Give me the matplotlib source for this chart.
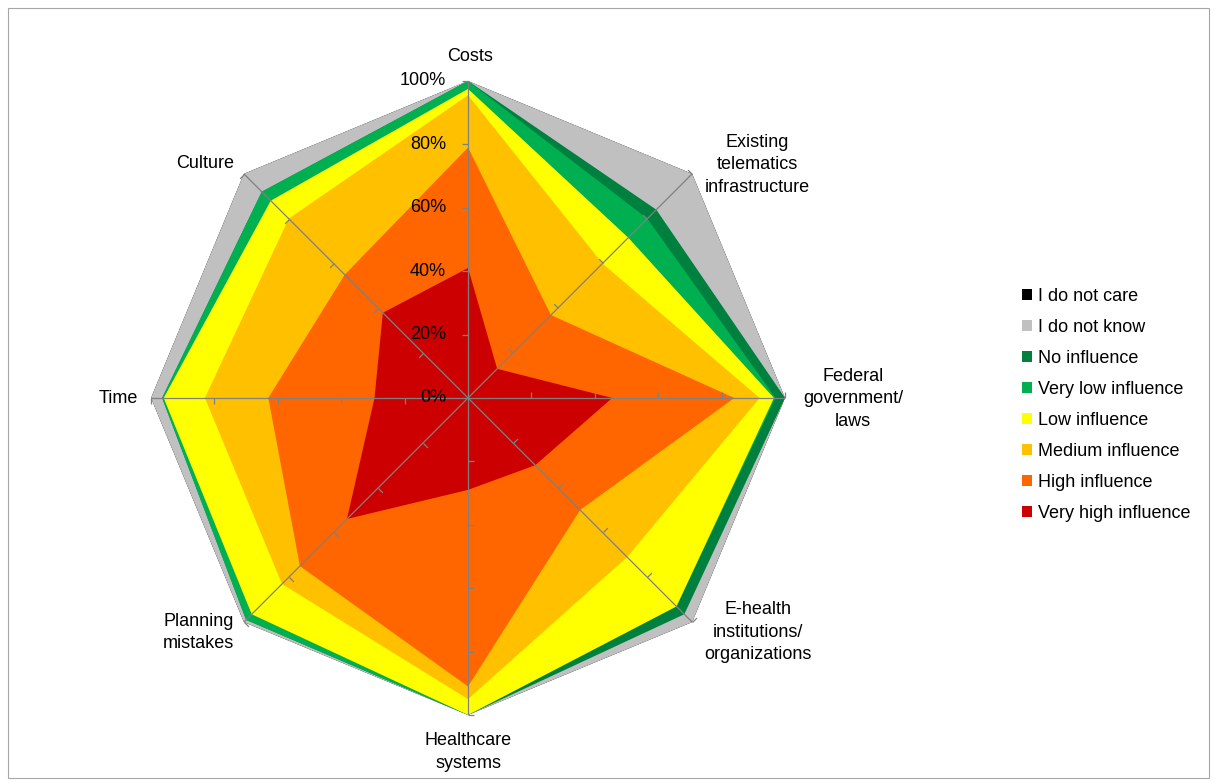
import matplotlib.pyplot as plt
import numpy as np
from matplotlib.markers import MarkerStyle
from matplotlib.path import Path
from matplotlib.transforms import Affine2D
from matplotlib.patches import Patch, Rectangle

plt.rcParams['font.family'] = ['Liberation Sans', 'DejaVu Sans']

# axes, clockwise from the top
categories = ["Costs", "Existing\ntelematics\ninfrastructure", "Federal\ngovernment/\nlaws",
              "E-health\ninstitutions/\norganizations", "Healthcare\nsystems",
              "Planning\nmistakes", "Time", "Culture"]

# cumulative shares in percent (outer edge of each band)
do_not_care = [100, 100, 100, 100, 100, 100, 100, 100]
do_not_know = [100, 100, 100, 100, 100, 100, 100, 100]
no_influence = [100, 84, 100, 96.5, 100, 99, 96.5, 92]
very_low = [100, 80, 97, 93, 100, 99, 96.5, 92]
low = [97.5, 71.5, 96.5, 93, 100, 96.5, 96, 88]
medium = [95.5, 60, 92, 71, 95, 83, 83, 80]
high = [79, 37, 84, 50, 91, 75, 63, 55]
very_high = [41, 13, 45.5, 30, 29, 54, 29.5, 38]

series_names = ["I do not care", "I do not know", "No influence", "Very low influence",
                "Low influence", "Medium influence", "High influence", "Very high influence"]
series_values = [do_not_care, do_not_know, no_influence, very_low, low, medium, high, very_high]
series_colors = ["#000000", "#C0C0C0", "#00803F", "#00B050", "#FFFF00", "#FFC000",
                 "#FF6600", "#CC0000"]

radial_ticks = [0, 20, 40, 60, 80, 100]
radial_labels = ["0%", "20%", "40%", "60%", "80%", "100%"]

# label offsets in pixels from the end of each spoke
label_offsets = [(2, 24), (65, 9), (68, -1), (66, -10), (0, -37), (-45, -10), (-33, -1), (-39, 10)]


def main():
  fig = plt.figure(figsize=(12.15, 7.83), dpi=100)
  fig.add_artist(Rectangle((8 / 1215, 5 / 783), 1201 / 1215, 770 / 783, transform=fig.transFigure,
                           fill=False, edgecolor="#A6A6A6", linewidth=0.8))

  ax = fig.add_axes([0.1243, 0.0869, 0.5218, 0.8097], projection="polar")
  ax.set_theta_offset(np.pi / 2)
  ax.set_theta_direction(-1)
  ax.set_ylim(0, 100)
  ax.grid(False)
  ax.set_xticks([])
  ax.set_yticks([])
  ax.spines["polar"].set_visible(False)
  ax.patch.set_alpha(0)

  n = len(categories)
  theta = np.arange(n) * 2 * np.pi / n
  theta_c = np.append(theta, theta[0])

  for vals, col in zip(series_values, series_colors):
    r = np.append(vals, vals[0])
    ax.fill(theta_c, r, color=col, linewidth=0, antialiased=True, zorder=1)

  # spokes with tick marks
  tick_path = Path([(0, 0), (1, 0)])
  for t in theta:
    ax.plot([t, t], [0, 100], color="#808080", linewidth=0.9, zorder=3)
    ang = 90 - np.degrees(t) + 90
    mk = MarkerStyle(tick_path, transform=Affine2D().rotate_deg(ang))
    ax.plot([t] * 5, radial_ticks[1:], linestyle="none", marker=mk, markersize=9,
            markeredgecolor="#808080", markeredgewidth=0.9, zorder=3, clip_on=False)

  for rt, lab in zip(radial_ticks, radial_labels):
    ax.annotate(lab, xy=(0, rt), xytext=(-22, 0), textcoords="offset pixels",
                ha="right", va="center", fontsize=13, zorder=4, annotation_clip=False)

  for t, lab, off in zip(theta, categories, label_offsets):
    ax.annotate(lab, xy=(t, 100), xytext=off, textcoords="offset pixels",
                ha="center", va="center", fontsize=13, linespacing=1.4,
                annotation_clip=False)

  handles = [Patch(facecolor=c, edgecolor="none") for c in series_colors]
  fig.legend(handles, series_names, loc="upper left", bbox_to_anchor=(1006 / 1215, 1 - 272 / 783),
             frameon=False, fontsize=13, handlelength=0.55, handleheight=0.55,
             handletextpad=0.35, labelspacing=0.77)

  plt.savefig("out.png", dpi=100)


if __name__ == '__main__':
  main()
